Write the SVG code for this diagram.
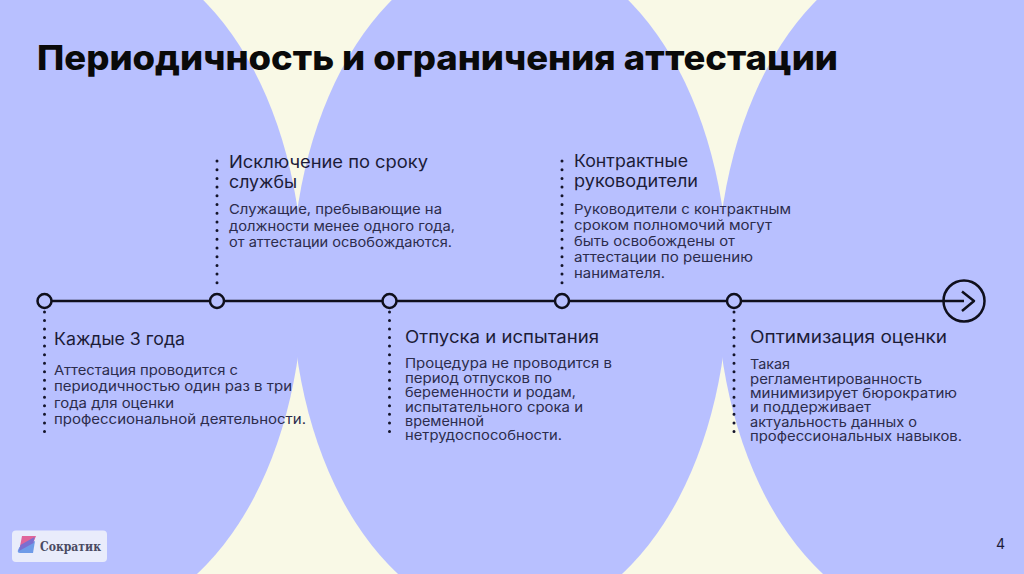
<svg xmlns="http://www.w3.org/2000/svg" width="1024" height="574" viewBox="0 0 1024 574">
<style>
text{font-family:"Inter","Noto Sans",sans-serif}
.t{font-size:34px;font-weight:800;fill:#0a0a0a}
.h{font-size:17px;fill:#1c1c38}
.b{font-size:13.5px;fill:#2c2c4c}
.e{fill:#b8c0ff}
.d{stroke:#14142a;stroke-width:3;stroke-linecap:round;fill:none}
.up{stroke-dasharray:0 8.7}
.dn{stroke-dasharray:0 8.53}
.l{stroke:#0f0f1c;stroke-width:2.5;fill:none}
.n{stroke:#0f0f1c;stroke-width:2.5;fill:#b8c0ff}
</style>
<g id="background">
<rect width="1024" height="574" fill="#f9f9e6"/>
<ellipse class="e" cx="85" cy="284" rx="218" ry="338"/>
<ellipse class="e" cx="510" cy="284" rx="218" ry="338"/>
<ellipse class="e" cx="935" cy="284" rx="218" ry="338"/>
</g>
<text id="title" class="t" x="37" y="70" textLength="801" lengthAdjust="spacingAndGlyphs">Периодичность и ограничения аттестации</text>
<g id="connectors">
<line class="l" x1="44" y1="301" x2="964" y2="301"/>
<line class="d dn" x1="44.500" y1="312" x2="44.500" y2="432"/>
<line class="d up" x1="217" y1="161" x2="217" y2="283.500"/>
<line class="d dn" x1="389.500" y1="312" x2="389.500" y2="432"/>
<line class="d up" x1="562" y1="161" x2="562" y2="283.500"/>
<line class="d dn" x1="734" y1="312" x2="734" y2="432"/>
</g>
<g id="node-1"><circle class="n" cx="44.500" cy="301" r="7"/>
<text class="h" x="54" y="345" textLength="131" lengthAdjust="spacingAndGlyphs">Каждые 3 года</text>
<text class="b" x="54" y="374.500" textLength="184" lengthAdjust="spacingAndGlyphs">Аттестация проводится с</text>
<text class="b" x="54" y="391" textLength="238" lengthAdjust="spacingAndGlyphs">периодичностью один раз в три</text>
<text class="b" x="54" y="407.500" textLength="120" lengthAdjust="spacingAndGlyphs">года для оценки</text>
<text class="b" x="54" y="423.500" textLength="252" lengthAdjust="spacingAndGlyphs">профессиональной деятельности.</text>
</g>
<g id="node-2"><circle class="n" cx="217" cy="301" r="7"/>
<text class="h" x="229" y="168" textLength="199" lengthAdjust="spacingAndGlyphs">Исключение по сроку</text>
<text class="h" x="229" y="188" textLength="68" lengthAdjust="spacingAndGlyphs">службы</text>
<text class="b" x="229" y="214" textLength="213" lengthAdjust="spacingAndGlyphs">Служащие, пребывающие на</text>
<text class="b" x="229" y="231" textLength="226" lengthAdjust="spacingAndGlyphs">должности менее одного года,</text>
<text class="b" x="229" y="247" textLength="223" lengthAdjust="spacingAndGlyphs">от аттестации освобождаются.</text>
</g>
<g id="node-3"><circle class="n" cx="389.500" cy="301" r="7"/>
<text class="h" x="405" y="343" textLength="194" lengthAdjust="spacingAndGlyphs">Отпуска и испытания</text>
<text class="b" x="405" y="368" textLength="207" lengthAdjust="spacingAndGlyphs">Процедура не проводится в</text>
<text class="b" x="405" y="382.500" textLength="147" lengthAdjust="spacingAndGlyphs">период отпусков по</text>
<text class="b" x="405" y="397" textLength="171" lengthAdjust="spacingAndGlyphs">беременности и родам,</text>
<text class="b" x="405" y="412" textLength="178" lengthAdjust="spacingAndGlyphs">испытательного срока и</text>
<text class="b" x="405" y="426" textLength="79" lengthAdjust="spacingAndGlyphs">временной</text>
<text class="b" x="405" y="440" textLength="157" lengthAdjust="spacingAndGlyphs">нетрудоспособности.</text>
</g>
<g id="node-4"><circle class="n" cx="562" cy="301" r="7"/>
<text class="h" x="574" y="167" textLength="114" lengthAdjust="spacingAndGlyphs">Контрактные</text>
<text class="h" x="574" y="187" textLength="124" lengthAdjust="spacingAndGlyphs">руководители</text>
<text class="b" x="574" y="214" textLength="217" lengthAdjust="spacingAndGlyphs">Руководители с контрактным</text>
<text class="b" x="574" y="230" textLength="198" lengthAdjust="spacingAndGlyphs">сроком полномочий могут</text>
<text class="b" x="574" y="246" textLength="161" lengthAdjust="spacingAndGlyphs">быть освобождены от</text>
<text class="b" x="574" y="262" textLength="179" lengthAdjust="spacingAndGlyphs">аттестации по решению</text>
<text class="b" x="574" y="278" textLength="91" lengthAdjust="spacingAndGlyphs">нанимателя.</text>
</g>
<g id="node-5"><circle class="n" cx="734" cy="301" r="7"/>
<text class="h" x="750" y="343" textLength="197" lengthAdjust="spacingAndGlyphs">Оптимизация оценки</text>
<text class="b" x="750" y="369" textLength="40" lengthAdjust="spacingAndGlyphs">Такая</text>
<text class="b" x="750" y="383.500" textLength="172" lengthAdjust="spacingAndGlyphs">регламентированность</text>
<text class="b" x="750" y="398" textLength="207" lengthAdjust="spacingAndGlyphs">минимизирует бюрократию</text>
<text class="b" x="750" y="412" textLength="121" lengthAdjust="spacingAndGlyphs">и поддерживает</text>
<text class="b" x="750" y="426.500" textLength="167" lengthAdjust="spacingAndGlyphs">актуальность данных о</text>
<text class="b" x="750" y="441" textLength="212" lengthAdjust="spacingAndGlyphs">профессиональных навыков.</text>
</g>
<g id="node-end">
<circle class="l" cx="964" cy="301" r="20.500"/>
<path class="l" d="M962 291.500 L974 301 L962 311" stroke-linejoin="round"/>
</g>
<g id="logo">
<rect x="12" y="530.500" width="95" height="31.500" rx="4" fill="#e9ecfb"/>
<path d="M22 536 H36 L34 541 L19.500 549 Z" fill="#e0659a"/>
<path d="M35 541 L33 553 H20 Q17 553 18 550 L19.500 547 Z" fill="#6f9be8"/>
<path d="M20.500 545 L34.500 537 L33.500 543 L19 551 Z" fill="#7b6fd0"/>
<text x="40" y="550.500" font-size="13.500" font-weight="700" style="font-family:'DejaVu Serif',serif" fill="#4a4a62" textLength="61" lengthAdjust="spacingAndGlyphs">Сократик</text>
</g>
<text id="page" x="996" y="549" font-size="14" fill="#1c1c38">4</text>
</svg>
